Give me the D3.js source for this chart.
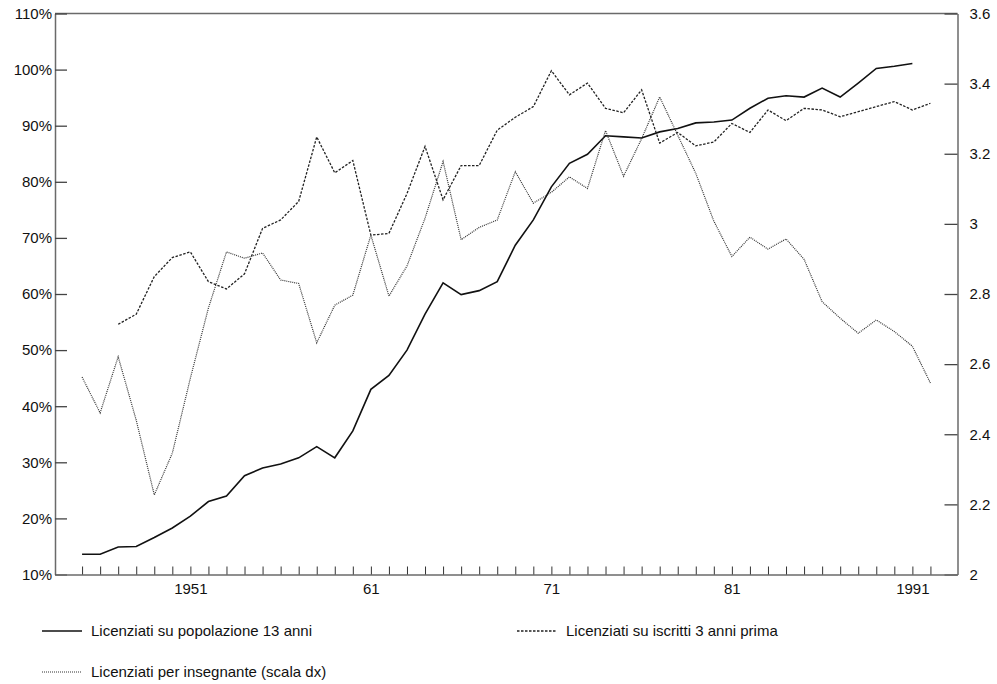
<!DOCTYPE html>
<html>
<head>
<meta charset="utf-8">
<script src="https://cdn.jsdelivr.net/npm/d3@7"></script>
<style>
  html, body { margin: 0; padding: 0; background: #fff; }
  svg { display: block; font-family: "Liberation Sans", Arial, sans-serif; }
</style>
</head>
<body>
<svg id="chart" width="997" height="684"></svg>
<script>
// Licenziati della scuola media, 1945-1992
const yearsPop = d3.range(1945, 1992);          // 1945-1991
const popolazione13 = [13.6,13.6,14.9,15.0,16.6,18.3,20.4,23.0,24.0,27.6,29.0,29.7,30.8,32.8,30.8,35.6,43.0,45.5,50.0,56.4,62.0,59.9,60.6,62.2,68.7,73.2,79.1,83.3,84.9,88.2,88.0,87.8,88.9,89.5,90.5,90.65,91.0,93.1,94.9,95.35,95.1,96.7,95.1,97.6,100.2,100.6,101.1];

const yearsIscr = d3.range(1947, 1993);         // 1947-1992
const iscritti3anni = [54.6,56.4,63.1,66.5,67.5,62.2,60.9,63.6,71.7,73.2,76.5,88.0,81.6,83.8,70.5,70.8,77.9,86.3,76.8,82.9,82.9,89.2,91.5,93.4,99.8,95.5,97.6,93.1,92.3,96.4,86.9,88.8,86.4,87.1,90.4,88.8,92.8,90.9,93.1,92.8,91.6,92.5,93.4,94.3,92.8,94.0];

const yearsIns = d3.range(1945, 1993);          // 1945-1992
const perInsegnante = [2.563,2.461,2.621,2.44,2.227,2.346,2.56,2.76,2.92,2.902,2.917,2.84,2.83,2.661,2.768,2.797,2.968,2.794,2.88,3.016,3.178,2.955,2.99,3.011,3.149,3.059,3.09,3.134,3.101,3.266,3.136,3.243,3.362,3.253,3.144,3.008,2.907,2.962,2.928,2.957,2.899,2.778,2.731,2.688,2.726,2.693,2.651,2.546];

const leftTicks = [10,20,30,40,50,60,70,80,90,100,110];
const rightTicks = [2,2.2,2.4,2.6,2.8,3,3.2,3.4,3.6];
const xLabelYears = [1951,1961,1971,1981,1991];
const xLabelText = ["1951","61","71","81","1991"];

const seriesNames = [
  "Licenziati su popolazione 13 anni",
  "Licenziati su iscritti 3 anni prima",
  "Licenziati per insegnante (scala dx)"
];

const svg = d3.select("#chart");
const L = 55, R = 957.5, T = 13.5, B = 574.5;

const x = d3.scaleLinear().domain([1943.5, 1993.5]).range([L, R]);
const yL = d3.scaleLinear().domain([10, 110]).range([B, T]);
const yR = d3.scaleLinear().domain([2, 3.6]).range([B, T]);

const fontSize = 15;
const frameColor = "#6a6a6a";

// frame
svg.append("line").attr("x1", L).attr("x2", R).attr("y1", T).attr("y2", T)
  .attr("stroke", frameColor).attr("stroke-width", 1.5);

// left axis
const gL = svg.append("g").attr("transform", `translate(${L},0)`)
  .call(d3.axisLeft(yL).tickValues(leftTicks).tickSizeInner(-12).tickSizeOuter(0)
    .tickPadding(3).tickFormat(d => d + "%"));
gL.select(".domain").attr("stroke", frameColor).attr("stroke-width", 1.5);
gL.selectAll(".tick line").attr("stroke", "#444").attr("stroke-width", 1.3);
gL.selectAll(".tick text").attr("font-size", fontSize).attr("font-family", "Liberation Sans, Arial, sans-serif").attr("fill", "#111");

// right axis
const gR = svg.append("g").attr("transform", `translate(${R},0)`)
  .call(d3.axisRight(yR).tickValues(rightTicks).tickSizeInner(-13).tickSizeOuter(0)
    .tickPadding(12).tickFormat(d => d3.format("~g")(d)));
gR.select(".domain").attr("stroke", frameColor).attr("stroke-width", 1.5);
gR.selectAll(".tick line").attr("stroke", "#444").attr("stroke-width", 1.3);
gR.selectAll(".tick text").attr("font-size", fontSize).attr("font-family", "Liberation Sans, Arial, sans-serif").attr("fill", "#111");

// bottom axis with a tick every year
const gB = svg.append("g").attr("transform", `translate(0,${B})`)
  .call(d3.axisBottom(x).tickValues(d3.range(1945, 1993)).tickSizeInner(-8).tickSizeOuter(0)
    .tickPadding(9).tickFormat(d => {
      const i = xLabelYears.indexOf(d);
      return i >= 0 ? xLabelText[i] : "";
    }));
gB.select(".domain").attr("stroke", frameColor).attr("stroke-width", 1.5);
gB.selectAll(".tick line").attr("stroke", "#333").attr("stroke-width", 1);
gB.selectAll(".tick text").attr("font-size", fontSize).attr("font-family", "Liberation Sans, Arial, sans-serif").attr("fill", "#111");

// series
const styles = [
  { stroke: "#111", width: 1.6, dash: null },
  { stroke: "#222", width: 1.3, dash: "2.5,1.5" },
  { stroke: "#333", width: 1.2, dash: "1,1" }
];

const lineL = d3.line().x(d => x(d[0])).y(d => yL(d[1]));
const lineR = d3.line().x(d => x(d[0])).y(d => yR(d[1]));

const data = [
  { pts: d3.zip(yearsPop, popolazione13), gen: lineL },
  { pts: d3.zip(yearsIscr, iscritti3anni), gen: lineL },
  { pts: d3.zip(yearsIns, perInsegnante), gen: lineR }
];

data.forEach((s, i) => {
  svg.append("path")
    .attr("d", s.gen(s.pts))
    .attr("fill", "none")
    .attr("stroke", styles[i].stroke)
    .attr("stroke-width", styles[i].width)
    .attr("stroke-dasharray", styles[i].dash)
    .attr("stroke-linejoin", "miter");
});

// legend
const legendPos = [
  { x: 42, y: 631 },
  { x: 517, y: 631 },
  { x: 42, y: 672 }
];
seriesNames.forEach((name, i) => {
  const p = legendPos[i];
  svg.append("line")
    .attr("x1", p.x).attr("x2", p.x + 40).attr("y1", p.y).attr("y2", p.y)
    .attr("stroke", styles[i].stroke)
    .attr("stroke-width", styles[i].width)
    .attr("stroke-dasharray", styles[i].dash);
  svg.append("text")
    .attr("x", p.x + 49).attr("y", p.y).attr("dy", "0.35em")
    .attr("font-size", fontSize).attr("fill", "#111")
    .text(name);
});
</script>
</body>
</html>
